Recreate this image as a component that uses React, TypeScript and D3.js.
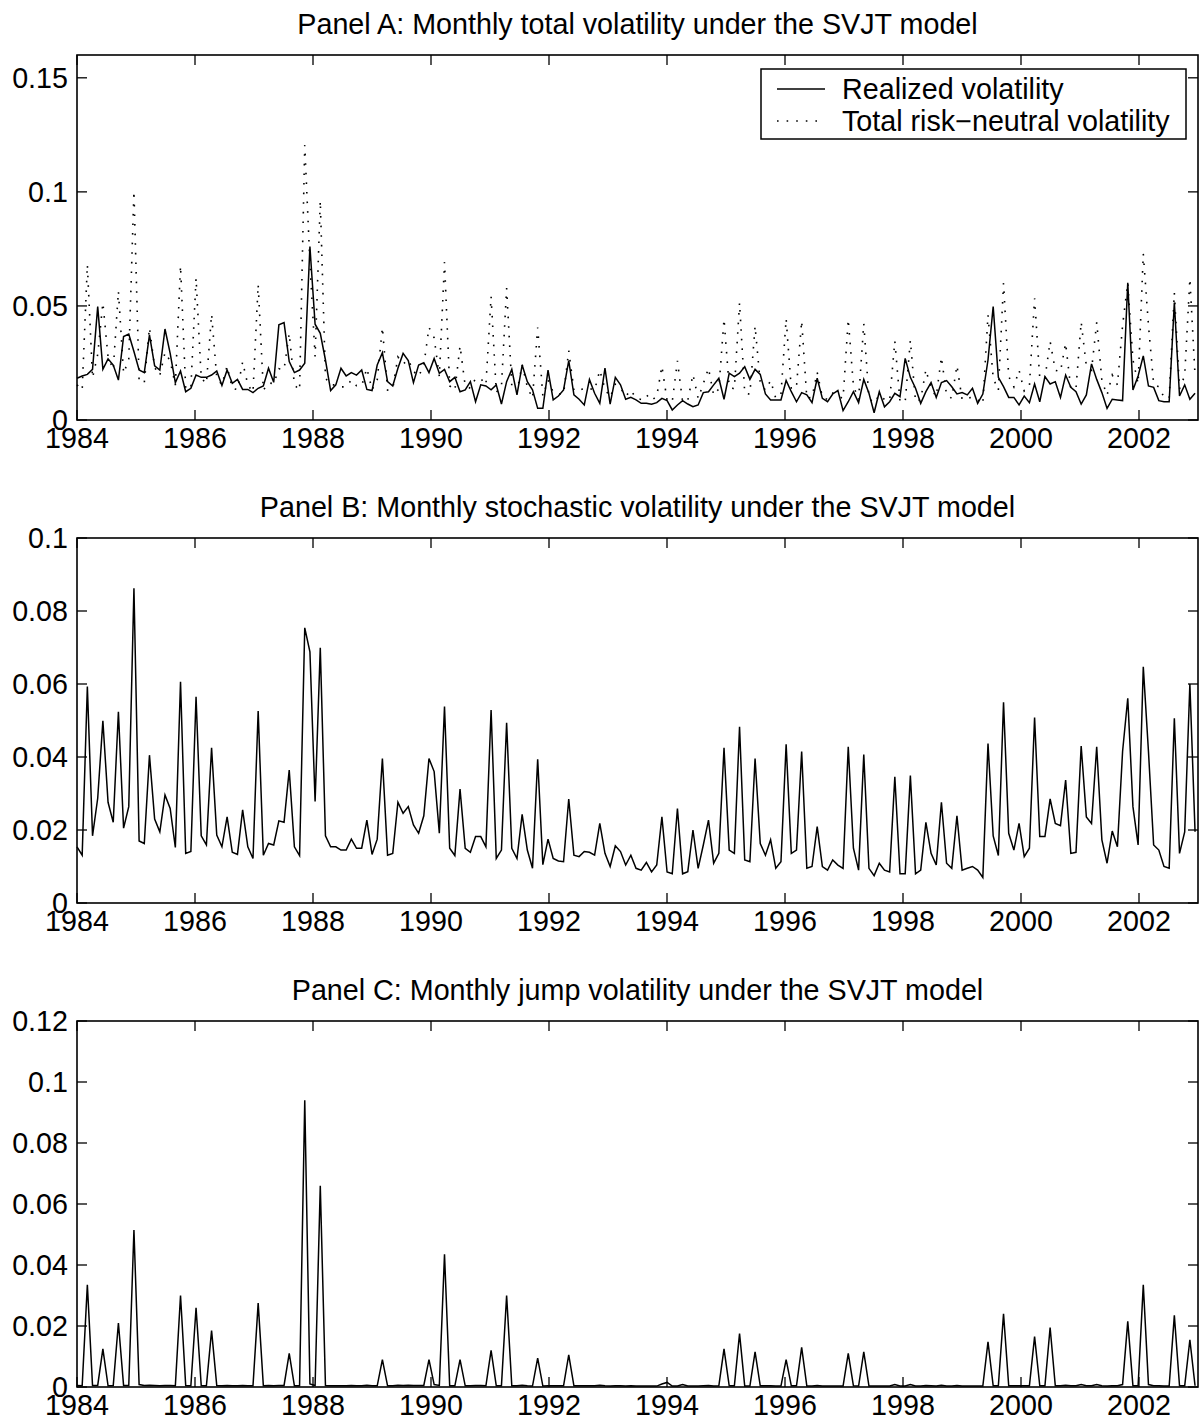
import React from 'react';
import * as d3 from 'd3';

// monthly series (217 points each)
const realized = [
  0.0183, 0.0193, 0.0200, 0.0222, 0.0497, 0.0222, 0.0268, 0.0241, 0.0175, 0.0366,
  0.0377, 0.0300, 0.0219, 0.0208, 0.0373, 0.0237, 0.0219, 0.0399, 0.0292, 0.0164,
  0.0215, 0.0124, 0.0139, 0.0197, 0.0187, 0.0187, 0.0197, 0.0215, 0.0151, 0.0219,
  0.0161, 0.0178, 0.0134, 0.0134, 0.0120, 0.0139, 0.0149, 0.0227, 0.0165, 0.0417,
  0.0427, 0.0256, 0.0208, 0.0219, 0.0249, 0.0760, 0.0420, 0.0380, 0.0263, 0.0129,
  0.0154, 0.0227, 0.0193, 0.0208, 0.0197, 0.0219, 0.0134, 0.0129, 0.0241, 0.0295,
  0.0168, 0.0149, 0.0227, 0.0292, 0.0260, 0.0164, 0.0241, 0.0251, 0.0208, 0.0270,
  0.0205, 0.0222, 0.0168, 0.0187, 0.0124, 0.0132, 0.0168, 0.0080, 0.0154, 0.0149,
  0.0132, 0.0154, 0.0070, 0.0168, 0.0222, 0.0110, 0.0241, 0.0168, 0.0132, 0.0051,
  0.0051, 0.0219, 0.0088, 0.0105, 0.0132, 0.0260, 0.0110, 0.0091, 0.0066, 0.0178,
  0.0117, 0.0073, 0.0227, 0.0070, 0.0187, 0.0154, 0.0091, 0.0099, 0.0088, 0.0073,
  0.0073, 0.0069, 0.0076, 0.0095, 0.0085, 0.0044, 0.0066, 0.0085, 0.0070, 0.0058,
  0.0066, 0.0120, 0.0124, 0.0154, 0.0183, 0.0091, 0.0205, 0.0190, 0.0205, 0.0234,
  0.0178, 0.0222, 0.0200, 0.0114, 0.0088, 0.0088, 0.0088, 0.0173, 0.0124, 0.0080,
  0.0120, 0.0110, 0.0076, 0.0183, 0.0095, 0.0080, 0.0114, 0.0129, 0.0041, 0.0080,
  0.0124, 0.0076, 0.0178, 0.0117, 0.0032, 0.0124, 0.0058, 0.0080, 0.0117, 0.0102,
  0.0270, 0.0187, 0.0139, 0.0073, 0.0124, 0.0164, 0.0099, 0.0164, 0.0173, 0.0146,
  0.0114, 0.0120, 0.0110, 0.0139, 0.0073, 0.0114, 0.0263, 0.0497, 0.0187, 0.0146,
  0.0099, 0.0099, 0.0066, 0.0105, 0.0076, 0.0158, 0.0080, 0.0190, 0.0158, 0.0168,
  0.0099, 0.0197, 0.0143, 0.0124, 0.0070, 0.0110, 0.0246, 0.0178, 0.0120, 0.0051,
  0.0091, 0.0088, 0.0085, 0.0602, 0.0132, 0.0193, 0.0281, 0.0149, 0.0143, 0.0085,
  0.0080, 0.0080, 0.0515, 0.0105, 0.0154, 0.0091, 0.0117,
];

const totalRN = [
  0.0154, 0.0131, 0.0681, 0.0184, 0.0287, 0.0514, 0.0276, 0.0221, 0.0565, 0.0205,
  0.0264, 0.1004, 0.0170, 0.0163, 0.0405, 0.0230, 0.0195, 0.0296, 0.0259, 0.0152,
  0.0676, 0.0136, 0.0141, 0.0622, 0.0184, 0.0159, 0.0464, 0.0186, 0.0154, 0.0236,
  0.0139, 0.0133, 0.0255, 0.0154, 0.0122, 0.0594, 0.0131, 0.0163, 0.0159, 0.0225,
  0.0221, 0.0380, 0.0154, 0.0130, 0.1205, 0.0688, 0.0278, 0.0961, 0.0184, 0.0154,
  0.0154, 0.0145, 0.0145, 0.0175, 0.0150, 0.0150, 0.0227, 0.0133, 0.0175, 0.0406,
  0.0131, 0.0136, 0.0276, 0.0246, 0.0264, 0.0214, 0.0191, 0.0239, 0.0406, 0.0360,
  0.0191, 0.0692, 0.0150, 0.0130, 0.0325, 0.0150, 0.0139, 0.0182, 0.0182, 0.0154,
  0.0542, 0.0122, 0.0145, 0.0578, 0.0150, 0.0122, 0.0243, 0.0145, 0.0095, 0.0405,
  0.0105, 0.0175, 0.0122, 0.0115, 0.0113, 0.0304, 0.0131, 0.0127, 0.0141, 0.0139,
  0.0131, 0.0218, 0.0136, 0.0100, 0.0157, 0.0141, 0.0104, 0.0131, 0.0095, 0.0090,
  0.0111, 0.0085, 0.0104, 0.0236, 0.0086, 0.0080, 0.0259, 0.0080, 0.0086, 0.0200,
  0.0095, 0.0159, 0.0227, 0.0109, 0.0136, 0.0443, 0.0145, 0.0136, 0.0514, 0.0118,
  0.0113, 0.0412, 0.0163, 0.0131, 0.0173, 0.0095, 0.0113, 0.0444, 0.0136, 0.0145,
  0.0435, 0.0095, 0.0100, 0.0209, 0.0100, 0.0090, 0.0118, 0.0104, 0.0095, 0.0442,
  0.0150, 0.0090, 0.0423, 0.0095, 0.0075, 0.0109, 0.0090, 0.0085, 0.0346, 0.0080,
  0.0080, 0.0349, 0.0080, 0.0090, 0.0221, 0.0136, 0.0104, 0.0276, 0.0109, 0.0095,
  0.0239, 0.0090, 0.0095, 0.0100, 0.0090, 0.0070, 0.0461, 0.0184, 0.0130, 0.0600,
  0.0191, 0.0145, 0.0218, 0.0127, 0.0150, 0.0534, 0.0182, 0.0182, 0.0345, 0.0218,
  0.0212, 0.0337, 0.0136, 0.0139, 0.0430, 0.0236, 0.0218, 0.0428, 0.0173, 0.0109,
  0.0197, 0.0154, 0.0415, 0.0601, 0.0264, 0.0159, 0.0729, 0.0415, 0.0159, 0.0145,
  0.0100, 0.0095, 0.0558, 0.0136, 0.0195, 0.0620, 0.0195,
];

const stochastic = [
  0.0154, 0.0131, 0.0593, 0.0184, 0.0287, 0.0499, 0.0276, 0.0221, 0.0524, 0.0205,
  0.0264, 0.0862, 0.0170, 0.0163, 0.0405, 0.0230, 0.0195, 0.0296, 0.0259, 0.0152,
  0.0606, 0.0136, 0.0141, 0.0565, 0.0184, 0.0159, 0.0425, 0.0186, 0.0154, 0.0236,
  0.0139, 0.0133, 0.0255, 0.0154, 0.0122, 0.0526, 0.0131, 0.0163, 0.0159, 0.0225,
  0.0221, 0.0364, 0.0154, 0.0130, 0.0754, 0.0688, 0.0278, 0.0699, 0.0184, 0.0154,
  0.0154, 0.0145, 0.0145, 0.0175, 0.0150, 0.0150, 0.0227, 0.0133, 0.0175, 0.0396,
  0.0131, 0.0136, 0.0276, 0.0246, 0.0264, 0.0214, 0.0191, 0.0239, 0.0396, 0.0360,
  0.0191, 0.0538, 0.0150, 0.0130, 0.0312, 0.0150, 0.0139, 0.0182, 0.0182, 0.0154,
  0.0529, 0.0122, 0.0145, 0.0494, 0.0150, 0.0122, 0.0243, 0.0145, 0.0095, 0.0394,
  0.0105, 0.0175, 0.0122, 0.0115, 0.0113, 0.0285, 0.0131, 0.0127, 0.0141, 0.0139,
  0.0131, 0.0218, 0.0136, 0.0100, 0.0157, 0.0141, 0.0104, 0.0131, 0.0095, 0.0090,
  0.0111, 0.0085, 0.0104, 0.0236, 0.0085, 0.0080, 0.0259, 0.0080, 0.0086, 0.0200,
  0.0095, 0.0159, 0.0227, 0.0109, 0.0136, 0.0425, 0.0145, 0.0136, 0.0483, 0.0118,
  0.0113, 0.0396, 0.0163, 0.0131, 0.0173, 0.0095, 0.0113, 0.0435, 0.0136, 0.0145,
  0.0415, 0.0095, 0.0100, 0.0209, 0.0100, 0.0090, 0.0118, 0.0104, 0.0095, 0.0428,
  0.0150, 0.0090, 0.0407, 0.0095, 0.0075, 0.0109, 0.0090, 0.0085, 0.0346, 0.0080,
  0.0080, 0.0349, 0.0080, 0.0090, 0.0221, 0.0136, 0.0104, 0.0276, 0.0109, 0.0095,
  0.0239, 0.0090, 0.0095, 0.0100, 0.0090, 0.0070, 0.0437, 0.0184, 0.0130, 0.0550,
  0.0191, 0.0145, 0.0218, 0.0127, 0.0150, 0.0508, 0.0182, 0.0182, 0.0285, 0.0218,
  0.0212, 0.0337, 0.0136, 0.0139, 0.0430, 0.0236, 0.0218, 0.0428, 0.0173, 0.0109,
  0.0197, 0.0154, 0.0415, 0.0561, 0.0264, 0.0159, 0.0647, 0.0415, 0.0159, 0.0145,
  0.0100, 0.0095, 0.0506, 0.0136, 0.0195, 0.0600, 0.0195,
];

const jump = [
  0.0005, 0.0004, 0.0335, 0.0005, 0.0005, 0.0125, 0.0004, 0.0005, 0.0210, 0.0005,
  0.0005, 0.0515, 0.0008, 0.0005, 0.0006, 0.0005, 0.0004, 0.0005, 0.0005, 0.0004,
  0.0300, 0.0005, 0.0004, 0.0260, 0.0005, 0.0004, 0.0185, 0.0005, 0.0004, 0.0005,
  0.0004, 0.0004, 0.0005, 0.0004, 0.0004, 0.0275, 0.0004, 0.0005, 0.0004, 0.0005,
  0.0005, 0.0110, 0.0004, 0.0004, 0.0940, 0.0010, 0.0005, 0.0660, 0.0005, 0.0004,
  0.0004, 0.0004, 0.0004, 0.0005, 0.0004, 0.0004, 0.0006, 0.0004, 0.0004, 0.0090,
  0.0004, 0.0004, 0.0006, 0.0005, 0.0006, 0.0005, 0.0005, 0.0005, 0.0090, 0.0008,
  0.0005, 0.0435, 0.0004, 0.0004, 0.0090, 0.0004, 0.0004, 0.0005, 0.0005, 0.0004,
  0.0120, 0.0004, 0.0004, 0.0300, 0.0004, 0.0004, 0.0006, 0.0004, 0.0003, 0.0095,
  0.0003, 0.0004, 0.0004, 0.0004, 0.0004, 0.0105, 0.0004, 0.0004, 0.0004, 0.0004,
  0.0004, 0.0006, 0.0004, 0.0003, 0.0004, 0.0004, 0.0003, 0.0004, 0.0003, 0.0003,
  0.0003, 0.0003, 0.0003, 0.0010, 0.0015, 0.0003, 0.0003, 0.0008, 0.0003, 0.0003,
  0.0003, 0.0004, 0.0005, 0.0003, 0.0004, 0.0125, 0.0004, 0.0004, 0.0175, 0.0003,
  0.0003, 0.0115, 0.0004, 0.0004, 0.0004, 0.0003, 0.0003, 0.0090, 0.0004, 0.0004,
  0.0130, 0.0003, 0.0003, 0.0005, 0.0003, 0.0003, 0.0003, 0.0003, 0.0003, 0.0110,
  0.0004, 0.0003, 0.0115, 0.0003, 0.0003, 0.0003, 0.0003, 0.0003, 0.0008, 0.0003,
  0.0003, 0.0008, 0.0003, 0.0003, 0.0005, 0.0004, 0.0003, 0.0006, 0.0003, 0.0003,
  0.0005, 0.0003, 0.0003, 0.0003, 0.0003, 0.0003, 0.0148, 0.0004, 0.0004, 0.0240,
  0.0004, 0.0004, 0.0004, 0.0004, 0.0004, 0.0165, 0.0004, 0.0004, 0.0195, 0.0004,
  0.0004, 0.0006, 0.0004, 0.0004, 0.0008, 0.0004, 0.0004, 0.0008, 0.0004, 0.0003,
  0.0004, 0.0004, 0.0008, 0.0215, 0.0004, 0.0004, 0.0335, 0.0008, 0.0004, 0.0004,
  0.0003, 0.0003, 0.0235, 0.0004, 0.0004, 0.0155, 0.0004,
];

const xTicks = [1984, 1986, 1988, 1990, 1992, 1994, 1996, 1998, 2000, 2002];
const yTicksA = [0, 0.05, 0.1, 0.15];
const yTicksB = [0, 0.02, 0.04, 0.06, 0.08, 0.1];
const yTicksC = [0, 0.02, 0.04, 0.06, 0.08, 0.1, 0.12];

const titles = [
  'Panel A: Monthly total volatility under the SVJT model',
  'Panel B: Monthly stochastic volatility under the SVJT model',
  'Panel C: Monthly jump volatility under the SVJT model',
];
const legendLabels = ['Realized volatility', 'Total risk\u2212neutral volatility'];

const W = 1204;
const H = 1426;
const LEFT = 77;
const RIGHT = 1198;
const TICK = 10;
const FONT = '"Liberation Sans", Arial, Helvetica, sans-serif';
const FS = 28.7;
const LW = 1.5;

const x = d3.scaleLinear().domain([1984, 2003]).range([LEFT, RIGHT]);
const xi = d3
  .scaleLinear()
  .domain([0, realized.length - 1])
  .range([x(1984), x(2002.95)]);

// MATLAB ':' style
const DOTTED = '1.6 8';

function Panel({ top, bottom, yMax, yTicks, title, lines, legend }) {
  const y = d3.scaleLinear().domain([0, yMax]).range([bottom, top]);
  const line = d3
    .line()
    .x((d, i) => xi(i))
    .y((d) => y(d));

  return (
    <g>
      <text
        x={(LEFT + RIGHT) / 2}
        y={top - 21}
        textAnchor="middle"
        fontSize={FS}
        fontFamily={FONT}
      >
        {title}
      </text>

      {lines.map((l, k) => (
        <path
          key={k}
          d={line(l.values)}
          fill="none"
          stroke="black"
          strokeWidth={l.dotted ? 1.6 : LW}
          strokeDasharray={l.dotted ? DOTTED : undefined}
          strokeLinejoin="miter"
        />
      ))}

      {/* box */}
      <rect
        x={LEFT}
        y={top}
        width={RIGHT - LEFT}
        height={bottom - top}
        fill="none"
        stroke="black"
        strokeWidth={1.6}
      />

      {/* x ticks */}
      {xTicks.map((t) => (
        <g key={'x' + t}>
          <line x1={x(t)} x2={x(t)} y1={bottom} y2={bottom - TICK} stroke="black" strokeWidth={1.3} />
          <line x1={x(t)} x2={x(t)} y1={top} y2={top + TICK} stroke="black" strokeWidth={1.3} />
          <text
            x={x(t)}
            y={bottom + 28}
            textAnchor="middle"
            fontSize={FS}
            fontFamily={FONT}
          >
            {t}
          </text>
        </g>
      ))}

      {/* y ticks */}
      {yTicks.map((t) => (
        <g key={'y' + t}>
          <line x1={LEFT} x2={LEFT + TICK} y1={y(t)} y2={y(t)} stroke="black" strokeWidth={1.3} />
          <line x1={RIGHT} x2={RIGHT - TICK} y1={y(t)} y2={y(t)} stroke="black" strokeWidth={1.3} />
          <text
            x={LEFT - 9}
            y={y(t)}
            dy="0.36em"
            textAnchor="end"
            fontSize={FS}
            fontFamily={FONT}
          >
            {String(t)}
          </text>
        </g>
      ))}

      {legend && (
        <g>
          <rect x={761} y={69} width={425} height={70} fill="white" stroke="black" strokeWidth={1.5} />
          <line x1={777} x2={825} y1={89} y2={89} stroke="black" strokeWidth={LW} />
          <line x1={777} x2={825} y1={121} y2={121} stroke="black" strokeWidth={1.6} strokeDasharray={DOTTED} />
          <text x={842} y={89} dy="0.36em" fontSize={FS} fontFamily={FONT}>
            {legendLabels[0]}
          </text>
          <text x={842} y={121} dy="0.36em" fontSize={FS} fontFamily={FONT}>
            {legendLabels[1]}
          </text>
        </g>
      )}
    </g>
  );
}

export default function App() {
  return (
    <svg
      width={W}
      height={H}
      viewBox={`0 0 ${W} ${H}`}
      style={{ position: 'absolute', left: 0, top: 0, background: 'white' }}
    >
      <rect width={W} height={H} fill="white" />
      <Panel
        top={55}
        bottom={420}
        yMax={0.16}
        yTicks={yTicksA}
        title={titles[0]}
        lines={[
          { values: realized, dotted: false },
          { values: totalRN, dotted: true },
        ]}
        legend
      />
      <Panel
        top={538}
        bottom={903}
        yMax={0.1}
        yTicks={yTicksB}
        title={titles[1]}
        lines={[{ values: stochastic, dotted: false }]}
      />
      <Panel
        top={1021}
        bottom={1387}
        yMax={0.12}
        yTicks={yTicksC}
        title={titles[2]}
        lines={[{ values: jump, dotted: false }]}
      />
    </svg>
  );
}
